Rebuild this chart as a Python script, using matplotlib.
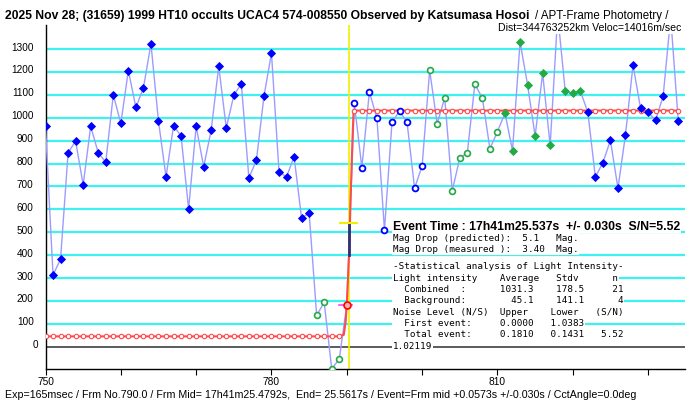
"""Light curve of the 2025 Nov 28 occultation by (31659) 1999 HT10, frame by frame."""

import matplotlib

matplotlib.use("Agg")
import matplotlib.pyplot as plt
import matplotlib.transforms as mtransforms
import numpy as np

W, H = 691, 403

# measured intensity per frame
FRAMES = np.arange(750, 835)
INTENSITY = [
    962, 313, 383, 847, 898, 707, 962, 847, 806, 1100,
    975, 1206, 1045, 1130, 1323, 985, 741, 965, 920, 601,
    962, 786, 946, 1225, 955, 1098, 1148, 737, 814, 1093,
    1282, 764, 741, 830, 561, 585, 137, 194, -97, -54,
    183, 1063, 782, 1113, 997, 509, 980, 1029, 980, 692,
    790, 1207, 974, 1087, 681, 824, 847, 1146, 1086, 865,
    939, 1020, 856, 1331, 1144, 920, 1194, 879, 1450, 1115,
    1106, 1117, 1024, 741, 804, 901, 692, 926, 1230, 1041,
    1024, 989, 1095, 1440, 987,
]
# marker style per frame: bf blue filled, bo blue open, gf green filled, go green open
MARKER_RUNS = [("bf", 36), ("go", 4), ("x", 1), ("bo", 10), ("go", 10), ("gf", 11), ("bf", 13)]

BACKGROUND = 45.1
COMBINED = 1031.3
EVENT_FRAME = 790.35
EVENT_POINT = (790, 183)
RAMP_X = [789.0, 789.6, 789.85, 790.0, 790.3, 790.5, 790.75, 790.9]
RAMP_Y = [45.1, 52, 110, 183, 400, 640, 900, 1031.3]
HALF_LEVEL = 538.2
ERRBAR_Y = (400, 538.2)

Y_TICKS = list(range(0, 1400, 100))
X_TICKS = list(range(750, 831, 10))
X_LABELS = [750, 780, 810]

GRID = "#3ff2f2"
LINE = "#9c9cff"
BLUE = "#0000ff"
GREEN = "#22aa44"
RED = "#ff4a4a"


def px(x, y):
    """Pixel position (from top left) to figure fraction."""
    return x / W, 1 - y / H


fig = plt.figure(figsize=(W / 100, H / 100), dpi=100)
ax = fig.add_axes([45.5 / W, 34 / H, (685 - 45.5) / W, (369 - 25) / H])
ax.set_xlim(750, 834.9)
ax.set_ylim(-97.4, 1405)

for v in Y_TICKS[1:]:
    ax.axhline(v, color=GRID, lw=1.6, zorder=1)
ax.axhline(0, color="#404040", lw=1.2, zorder=1)
ax.axvline(EVENT_FRAME, color="#f0f000", lw=1.2, zorder=2)

ax.plot(FRAMES, INTENSITY, color=LINE, lw=1.0, zorder=3)

# fitted step model
n_pre = int(RAMP_X[0]) - 750 + 1
pre_x = FRAMES[:n_pre]
post_x = FRAMES[n_pre + 1:]
ax.plot(list(pre_x) + RAMP_X[1:] + list(post_x),
        [BACKGROUND] * n_pre + RAMP_Y[1:] + [COMBINED] * len(post_x),
        color=RED, lw=1.5, zorder=4)
for xs, lvl in ((pre_x, BACKGROUND), (post_x, COMBINED)):
    ax.plot(xs, [lvl] * len(xs), ls="none", marker="o", ms=3.2, mfc="white",
            mec=RED, mew=0.8, zorder=5)
ax.plot([EVENT_POINT[0]], [EVENT_POINT[1]], marker="o", ms=5, mfc="#ffb0b0",
        mec="#ff0000", mew=1.2, zorder=7)
ax.plot([EVENT_FRAME, EVENT_FRAME], ERRBAR_Y, color="#30307a", lw=2, zorder=6)
ax.plot([789.1, 791.4], [HALF_LEVEL] * 2, color="#f0f000", lw=1.5, zorder=6)
ax.plot([788.95, 790.7], [EVENT_POINT[1]] * 2, color="#ff40ff", lw=1.2, zorder=6)

styles = {
    "bf": dict(marker="D", ms=3.8, mfc=BLUE, mec=BLUE, mew=0.6),
    "bo": dict(marker="o", ms=4.2, mfc="white", mec=BLUE, mew=1.3),
    "gf": dict(marker="D", ms=3.8, mfc=GREEN, mec=GREEN, mew=0.6),
    "go": dict(marker="o", ms=4.2, mfc="white", mec=GREEN, mew=1.2),
}
start = 0
for kind, count in MARKER_RUNS:
    if kind in styles:
        ax.plot(FRAMES[start:start + count], INTENSITY[start:start + count],
                ls="none", zorder=8, **styles[kind])
    start += count

for side in ("top", "right"):
    ax.spines[side].set_visible(False)
for side in ("left", "bottom"):
    ax.spines[side].set_linewidth(1.0)
ax.set_yticks(Y_TICKS)
ax.set_yticklabels([str(v) for v in Y_TICKS], fontsize=7.2, family="Liberation Sans")
ax.tick_params(axis="y", length=0, pad=8.5)
# labels sit a little above their grid line; the "0" sits closer to the axis
for i, label in enumerate(ax.get_yticklabels()):
    dx = 5 if i == 0 else 0
    label.set_transform(label.get_transform() + mtransforms.ScaledTranslation(
        dx / 100, 2.5 / 100, fig.dpi_scale_trans))
ax.set_xticks(X_TICKS)
ax.set_xticklabels([str(v) if v in X_LABELS else "" for v in X_TICKS],
                   fontsize=7.3, family="Liberation Sans")
ax.tick_params(axis="x", length=4, width=0.8, pad=1.5)

# title
white = dict(facecolor="white", edgecolor="none", pad=1)
fig.text(*px(5, 16), "2025 Nov 28; (31659) 1999 HT10 occults UCAC4 574-008550 "
         "Observed by Katsumasa Hosoi", family="Liberation Sans",
         fontweight="bold", fontsize=8.7, va="center", bbox=white)
fig.text(*px(535, 16), "/ APT-Frame Photometry /", family="Liberation Sans",
         fontsize=8.3, va="center", bbox=white)
fig.text(*px(681, 28), "Dist=344763252km Veloc=14016m/sec", family="Liberation Sans",
         fontsize=7.6, va="center", ha="right", bbox=white)
fig.text(*px(5, 395), "Exp=165msec / Frm No.790.0 / Frm Mid= 17h41m25.4792s,  End= 25.5617s"
         " / Event=Frm mid +0.0573s +/-0.030s / CctAngle=0.0deg",
         family="Liberation Sans", fontsize=7.7, va="center")

# result box
fig.text(*px(393, 226.7), "Event Time : 17h41m25.537s  +/- 0.030s  S/N=5.52",
         family="Liberation Sans", fontweight="bold", fontsize=8.8, va="center",
         bbox=dict(facecolor="white", edgecolor="none", pad=0.5), zorder=10)
STATS = [
    (238.3, "Mag Drop (predicted):  5.1   Mag."),
    (250.0, "Mag Drop (measured ):  3.40  Mag."),
    (266.7, "-Statistical analysis of Light Intensity-"),
    (278.3, "Light intensity    Average   Stdv      n"),
    (289.3, "  Combined  :      1031.3    178.5     21"),
    (300.7, "  Background:        45.1    141.1      4"),
    (312.3, "Noise Level (N/S)  Upper    Lower   (S/N)"),
    (323.3, "  First event:     0.0000   1.0383"),
    (334.3, "  Total event:     0.1810   0.1431   5.52"),
    (346.7, "1.02119"),
]
for y, line in STATS:
    fig.text(*px(393, y), line, family="DejaVu Sans Mono", fontsize=6.7, va="center",
             bbox=dict(facecolor="white", edgecolor="none", pad=0.5), zorder=10)

fig.savefig("out.png", dpi=100)
